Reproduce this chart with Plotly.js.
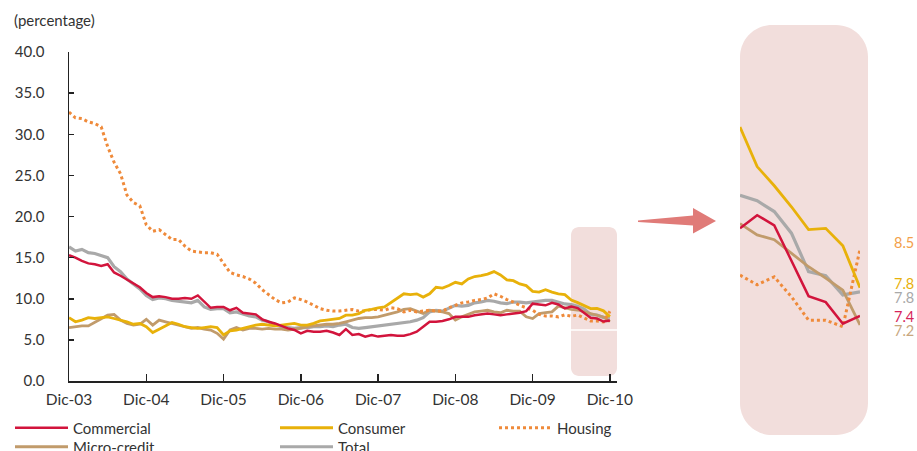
<!DOCTYPE html>
<html>
<head>
<meta charset="utf-8">
<script src="https://cdn.plot.ly/plotly-3.0.1.min.js"></script>
<style>html,body{margin:0;padding:0;background:#fff;}#chart{width:917px;height:451px;}</style>
</head>
<body>
<div id="chart"></div>
<script>
// ---- categories (monthly, Dic-03 .. Dic-10) ----
const monthAbbr = ['Ene','Feb','Mar','Abr','May','Jun','Jul','Ago','Sep','Oct','Nov','Dic'];
const months = [];
for (let yr = 2003; yr <= 2010; yr++) {
  for (let m = 0; m < 12; m++) {
    if (yr === 2003 && m < 11) continue;
    months.push(monthAbbr[m] + '-' + String(yr).slice(2));
  }
}
const xTickLabels = ['Dic-03','Dic-04','Dic-05','Dic-06','Dic-07','Dic-08','Dic-09','Dic-10'];
const yTickValues = [0,5,10,15,20,25,30,35,40];

// ---- series (percentage) ----
const commercial = [15.3,15.0,14.6,14.3,14.2,14.0,14.2,13.2,12.8,12.3,11.9,11.4,10.7,10.2,10.3,10.2,10.0,10.0,10.1,10.0,10.4,9.6,8.9,9.0,9.0,8.6,8.9,8.3,8.2,8.1,7.5,7.2,7.0,6.7,6.4,6.2,5.8,6.1,6.0,6.0,6.1,5.9,5.6,6.3,5.6,5.7,5.4,5.6,5.4,5.5,5.6,5.5,5.5,5.7,6.0,6.6,7.2,7.2,7.3,7.5,7.8,7.8,7.8,8.0,8.1,8.2,8.1,8.0,8.1,8.2,8.3,8.5,9.4,9.3,9.2,9.5,9.3,8.82,9.04,8.87,8.29,7.69,7.59,7.23,7.36];
const consumer = [7.7,7.2,7.4,7.7,7.6,7.7,7.8,7.6,7.4,7.2,6.9,7.0,6.6,5.9,6.3,6.7,7.1,6.9,6.6,6.5,6.4,6.5,6.6,6.5,5.6,6.1,6.2,6.4,6.6,6.8,6.9,6.8,6.7,6.8,6.9,7.0,6.8,6.8,7.0,7.3,7.4,7.5,7.6,8.0,8.0,8.2,8.6,8.7,8.9,9.0,9.5,10.0,10.6,10.5,10.6,10.2,10.6,11.4,11.3,11.6,12.0,11.8,12.4,12.7,12.8,13.0,13.3,12.9,12.3,12.2,11.8,11.6,10.9,10.8,11.1,10.8,10.6,10.51,9.85,9.53,9.18,8.80,8.82,8.53,7.83];
const housing = [32.7,32.0,31.9,31.5,31.3,30.9,28.5,26.6,25.2,22.6,21.7,21.3,19.0,18.2,18.4,17.8,17.2,17.2,16.4,15.8,15.7,15.6,15.6,15.4,14.3,13.2,12.9,12.7,12.4,11.9,11.1,10.5,9.9,9.5,9.6,10.1,9.9,9.6,9.2,8.8,8.6,8.5,8.5,8.6,8.7,8.5,8.5,8.7,8.7,8.6,8.9,8.8,8.4,8.6,8.4,8.5,8.6,8.5,8.5,8.9,9.2,9.5,9.6,9.8,9.9,10.1,10.6,10.3,9.9,9.6,9.2,8.9,8.6,8.1,7.9,7.9,7.8,8.04,7.88,8.01,7.68,7.29,7.29,7.18,8.47];
const microcredit = [6.5,6.6,6.7,6.7,7.1,7.6,8.0,8.1,7.4,7.0,6.8,6.9,7.5,6.8,7.4,7.2,7.0,6.8,6.6,6.4,6.5,6.3,6.2,5.8,5.1,6.2,6.5,6.2,6.4,6.4,6.3,6.4,6.3,6.3,6.2,6.3,6.4,6.6,6.7,6.8,6.9,6.9,7.0,7.2,7.4,7.6,7.7,7.7,7.8,8.0,8.2,8.4,8.7,8.8,8.5,8.2,8.6,8.5,8.4,8.2,7.4,7.8,8.1,8.4,8.5,8.6,8.4,8.3,8.6,8.5,8.5,7.8,7.6,8.2,8.3,8.4,9.1,8.90,8.71,8.63,8.40,8.18,7.99,7.79,7.21];
const total = [16.3,15.8,16.0,15.6,15.5,15.3,15.0,13.9,13.3,12.4,11.8,11.2,10.4,9.9,10.1,10.0,9.8,9.7,9.6,9.5,9.8,9.0,8.7,8.8,8.8,8.3,8.4,8.1,7.9,7.8,7.4,7.2,6.8,6.6,6.5,6.4,6.5,6.5,6.6,6.6,6.7,6.6,6.8,6.9,6.5,6.4,6.5,6.6,6.7,6.8,6.9,7.0,7.1,7.2,7.4,7.7,8.4,8.6,8.5,8.8,9.2,9.1,9.2,9.5,9.6,9.8,9.7,9.5,9.4,9.6,9.6,9.5,9.6,9.7,9.8,9.8,9.6,9.37,9.28,9.10,8.74,8.10,8.03,7.71,7.76];

const seriesNames = ['Commercial','Consumer','Housing','Micro-credit','Total'];
const seriesData = [commercial, consumer, housing, microcredit, total];
const insetMonths = 8;

// ---- styles ----
const colors = ['#d2143c','#e8b10a','#ef8a3a','#c19b6b','#a9a9a9'];
const labelColors = ['#d6245a','#e8b10a','#f3a04a','#c8a77e','#a9a9a9'];
const dashes = ['solid','solid','dot','solid','solid'];
const widths = [2.5,2.8,3,2.8,3.2];
const W = 917, H = 451;
const FONT = 'Lato, "Open Sans", sans-serif';
const TXT = '#333333';

function px(x){ return x / W; }
function py(y){ return 1 - y / H; }
function P(x,y){ return px(x).toFixed(5) + ',' + py(y).toFixed(5); }
function roundRect(x0,y0,x1,y1,r){
  const k = 0.5523 * r;
  return 'M' + P(x0+r,y0) + ' L' + P(x1-r,y0) +
    ' C' + P(x1-r+k,y0) + ' ' + P(x1,y0+r-k) + ' ' + P(x1,y0+r) +
    ' L' + P(x1,y1-r) +
    ' C' + P(x1,y1-r+k) + ' ' + P(x1-r+k,y1) + ' ' + P(x1-r,y1) +
    ' L' + P(x0+r,y1) +
    ' C' + P(x0+r-k,y1) + ' ' + P(x0,y1-r+k) + ' ' + P(x0,y1-r) +
    ' L' + P(x0,y0+r) +
    ' C' + P(x0,y0+r-k) + ' ' + P(x0+r-k,y0) + ' ' + P(x0+r,y0) + ' Z';
}

const traces = [];
// legend placement per series: [left px, center y px]
const legendPos = [[10,428],[275,428],[494,428],[10,447],[275,447]];
const drawOrder = [4,3,2,1,0];
drawOrder.forEach(i => {
  traces.push({
    type:'scatter', mode:'lines', name: seriesNames[i],
    x: months, y: seriesData[i], xaxis:'x', yaxis:'y',
    line:{color: colors[i], width: widths[i], dash: dashes[i]},
    legend: i === 0 ? 'legend' : 'legend' + (i+1),
    hoverinfo:'skip'
  });
});
drawOrder.forEach(i => {
  traces.push({
    type:'scatter', mode:'lines', name: seriesNames[i], showlegend:false,
    x: months.slice(-insetMonths), y: seriesData[i].slice(-insetMonths),
    xaxis:'x2', yaxis:'y2',
    line:{color: colors[i], width: widths[i], dash: dashes[i]},
    hoverinfo:'skip'
  });
});

const layout = {
  width: W, height: H,
  margin:{l:0,r:0,t:0,b:0,autoexpand:false},
  paper_bgcolor:'#ffffff', plot_bgcolor:'rgba(0,0,0,0)',
  font:{family: FONT, size:15, color: TXT},
  showlegend:true,
  xaxis:{
    type:'category', domain:[px(69), px(617)], range:[0, 85.1],
    tickmode:'array', tickvals: xTickLabels, ticktext: xTickLabels,
    ticks:'inside', ticklen:7, tickwidth:1.5, tickcolor:'#222',
    showline:true, linecolor:'#222', linewidth:1.5,
    showgrid:false, zeroline:false, anchor:'y', fixedrange:true,
    ticklabelstandoff:4, tickfont:{size:15.5, color:TXT}
  },
  yaxis:{
    domain:[py(381), py(52)], range:[0,40],
    tickmode:'array', tickvals: yTickValues, tickformat:'.1f',
    ticks:'inside', ticklen:5, tickwidth:1.5, tickcolor:'#222',
    showline:true, linecolor:'#222', linewidth:1.5,
    showgrid:false, zeroline:false, anchor:'x', fixedrange:true,
    ticklabelstandoff:20, tickfont:{size:15, color:TXT}
  },
  xaxis2:{
    type:'category', domain:[px(740), px(860)], range:[0, insetMonths-1],
    visible:false, anchor:'y2', fixedrange:true
  },
  yaxis2:{
    domain:[py(435), py(25)], range:[5.375, 12.21],
    visible:false, anchor:'x2', fixedrange:true
  },
  shapes:[
    {type:'path', xref:'paper', yref:'paper', layer:'below', path: roundRect(571,227,617,376,8), fillcolor:'#f2dedc', line:{width:0}},
    {type:'line', xref:'paper', yref:'paper', layer:'below', x0:px(571), x1:px(617), y0:py(330), y1:py(330), line:{color:'#ffffff', width:1.5}},
    {type:'path', xref:'paper', yref:'paper', layer:'below', path: roundRect(740,25,868,435,32), fillcolor:'#f2dedc', line:{width:0}},
    {type:'path', xref:'paper', yref:'paper', layer:'above',
      path:'M'+P(638,220.5)+' L'+P(693,215.5)+' L'+P(693,208)+' L'+P(716,221)+' L'+P(693,233.5)+' L'+P(693,225.5)+' L'+P(638,222)+' Z',
      fillcolor:'#e07b78', line:{width:0}}
  ],
  annotations:[
    {xref:'paper', yref:'paper', x:px(12), y:py(20), xanchor:'left', yanchor:'middle', showarrow:false,
     text:'(percentage)', font:{size:15, color:TXT}}
  ]
};

// end-value labels of the inset
const endLabelY = [316, 283, 242, 330, 297];
seriesData.forEach((arr, i) => {
  layout.annotations.push({
    xref:'paper', yref:'paper', x:px(892), y:py(endLabelY[i]), xanchor:'left', yanchor:'middle',
    showarrow:false, text: arr[arr.length-1].toFixed(1), font:{size:14.5, color: labelColors[i]}
  });
});

// legends
seriesNames.forEach((n, i) => {
  const key = i === 0 ? 'legend' : 'legend' + (i+1);
  layout[key] = {
    x: px(legendPos[i][0]), y: py(legendPos[i][1]), xanchor:'left', yanchor:'middle',
    orientation:'v', bgcolor:'rgba(0,0,0,0)', borderwidth:0, itemwidth:53,
    font:{size:15, color:TXT}, itemclick:false, itemdoubleclick:false
  };
});

Plotly.newPlot('chart', traces, layout, {staticPlot:true, displayModeBar:false});
</script>
</body>
</html>
